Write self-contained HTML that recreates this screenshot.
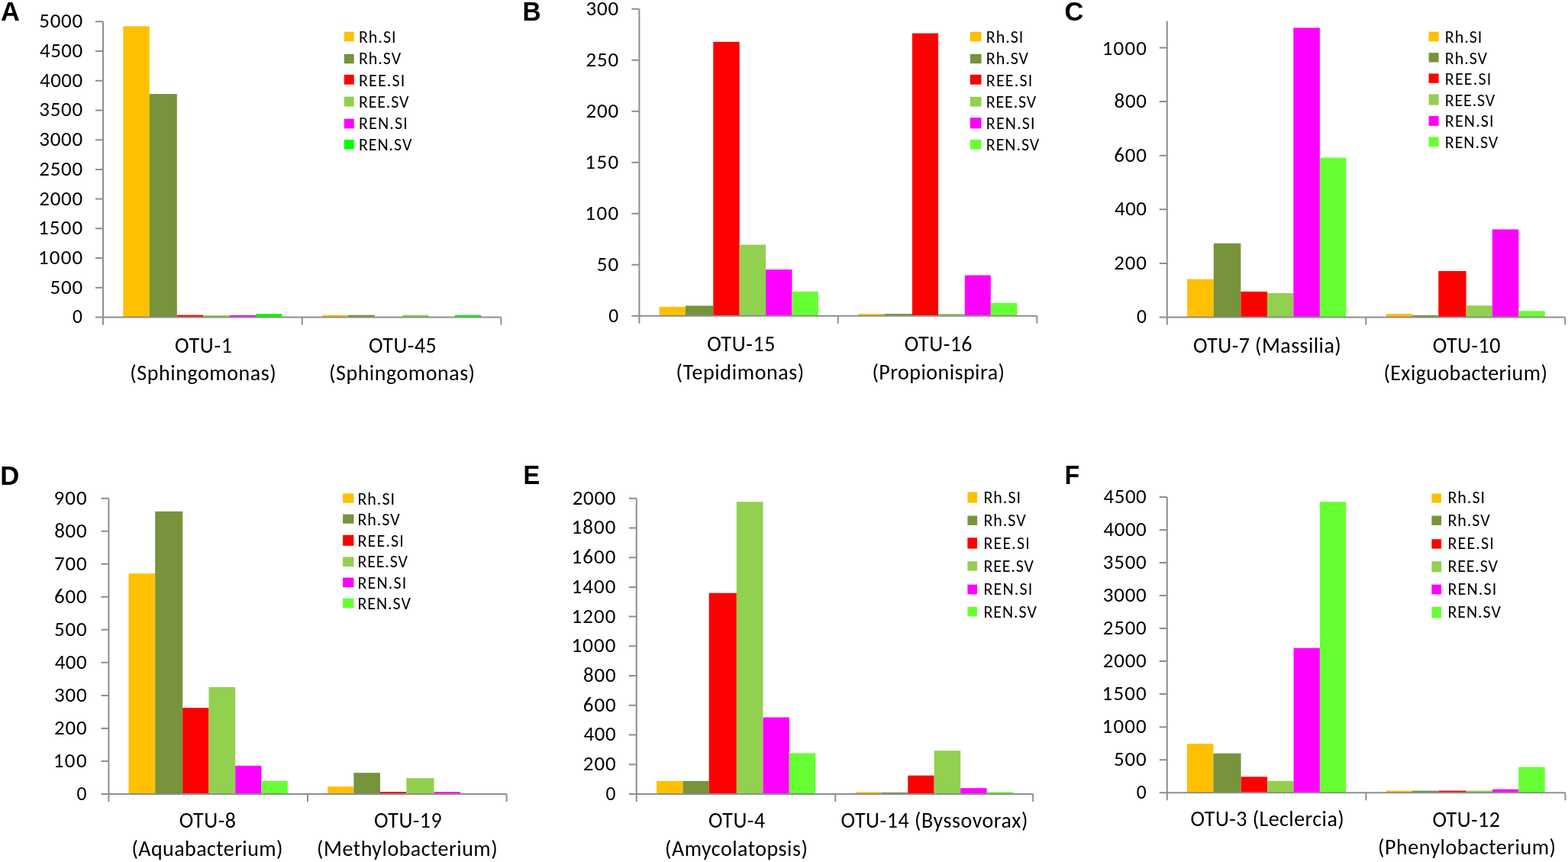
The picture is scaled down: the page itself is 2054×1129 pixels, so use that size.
<!DOCTYPE html>
<html><head><meta charset="utf-8"><title>OTU abundance bar charts</title>
<style>html,body{margin:0;padding:0;background:#fff;}svg{display:block;}text{fill:#000;}</style>
</head><body>
<svg width="2054" height="1129" viewBox="0 0 2054 1129">
<rect width="2054" height="1129" fill="#fff"/>
<rect x="161.4" y="34.35" width="34.4" height="381.15" fill="#FFC000"/>
<rect x="195.8" y="123.1" width="36.05" height="292.4" fill="#77933C"/>
<rect x="231.85" y="412.6" width="34.45" height="2.9" fill="#FF0000"/>
<rect x="266.3" y="413" width="34.7" height="2.5" fill="#92D050"/>
<rect x="301" y="412.8" width="34.2" height="2.7" fill="#FF00FF"/>
<rect x="335.2" y="411" width="34.3" height="4.5" fill="#00FF00"/>
<rect x="422.1" y="412.6" width="34.1" height="2.9" fill="#FFC000"/>
<rect x="456.2" y="412.6" width="34.6" height="2.9" fill="#77933C"/>
<rect x="527.1" y="412.6" width="34.3" height="2.9" fill="#92D050"/>
<rect x="595.7" y="412.6" width="34.5" height="2.9" fill="#00FF00"/>
<path d="M135 28.3V425.5M125 415.5H656.4M395.8 415.5V425.5M656.4 415.5V425.5M125 376.78H135M125 338.06H135M125 299.34H135M125 260.62H135M125 221.9H135M125 183.18H135M125 144.46H135M125 105.74H135M125 67.02H135M125 28.3H135" stroke="#8e8e8e" stroke-width="2" fill="none"/>
<text transform="translate(95.09 423.4) scale(0.9469 1)" font-family="Carlito, 'Liberation Sans', sans-serif" font-size="27">0</text>
<text x="65.45" y="384.68" font-family="Carlito, 'Liberation Sans', sans-serif" font-size="27" textLength="42.76" lengthAdjust="spacing">500</text>
<text x="50" y="345.96" font-family="Carlito, 'Liberation Sans', sans-serif" font-size="27" textLength="58.15" lengthAdjust="spacing">1000</text>
<text x="50" y="307.24" font-family="Carlito, 'Liberation Sans', sans-serif" font-size="27" textLength="58.15" lengthAdjust="spacing">1500</text>
<text x="51.25" y="268.52" font-family="Carlito, 'Liberation Sans', sans-serif" font-size="27" textLength="56.90" lengthAdjust="spacing">2000</text>
<text x="51.25" y="229.8" font-family="Carlito, 'Liberation Sans', sans-serif" font-size="27" textLength="56.90" lengthAdjust="spacing">2500</text>
<text x="51.25" y="191.08" font-family="Carlito, 'Liberation Sans', sans-serif" font-size="27" textLength="56.90" lengthAdjust="spacing">3000</text>
<text x="51.25" y="152.36" font-family="Carlito, 'Liberation Sans', sans-serif" font-size="27" textLength="56.90" lengthAdjust="spacing">3500</text>
<text x="52" y="113.64" font-family="Carlito, 'Liberation Sans', sans-serif" font-size="27" textLength="56.15" lengthAdjust="spacing">4000</text>
<text x="52" y="74.92" font-family="Carlito, 'Liberation Sans', sans-serif" font-size="27" textLength="56.15" lengthAdjust="spacing">4500</text>
<text x="51.25" y="36.2" font-family="Carlito, 'Liberation Sans', sans-serif" font-size="27" textLength="56.90" lengthAdjust="spacing">5000</text>
<text x="229.1" y="461.6" font-family="Carlito, 'Liberation Sans', sans-serif" font-size="28" textLength="74.77" lengthAdjust="spacing">OTU-1</text>
<text x="170.2" y="498.27" font-family="Carlito, 'Liberation Sans', sans-serif" font-size="28" textLength="191.43" lengthAdjust="spacing">(Sphingomonas)</text>
<text x="483" y="461.6" font-family="Carlito, 'Liberation Sans', sans-serif" font-size="28" textLength="88.81" lengthAdjust="spacing">OTU-45</text>
<text x="431" y="498.27" font-family="Carlito, 'Liberation Sans', sans-serif" font-size="28" textLength="191.12" lengthAdjust="spacing">(Sphingomonas)</text>
<rect x="450.8" y="41.6" width="12.9" height="12.7" fill="#FFC000"/>
<text x="469.9" y="56.2" font-family="Carlito, 'Liberation Sans', sans-serif" font-size="22" textLength="48.62" lengthAdjust="spacing">Rh.SI</text>
<rect x="450.8" y="70.8" width="12.9" height="12.4" fill="#77933C"/>
<text x="469.9" y="84.44" font-family="Carlito, 'Liberation Sans', sans-serif" font-size="22" textLength="55.25" lengthAdjust="spacing">Rh.SV</text>
<rect x="450.8" y="97.8" width="12.9" height="12.9" fill="#FF0000"/>
<text x="469.9" y="112.68" font-family="Carlito, 'Liberation Sans', sans-serif" font-size="22" textLength="60.39" lengthAdjust="spacing">REE.SI</text>
<rect x="450.8" y="126.6" width="12.9" height="12.9" fill="#92D050"/>
<text x="469.9" y="140.92" font-family="Carlito, 'Liberation Sans', sans-serif" font-size="22" textLength="65.49" lengthAdjust="spacing">REE.SV</text>
<rect x="450.8" y="155.6" width="12.9" height="12.7" fill="#FF00FF"/>
<text x="469.9" y="169.16" font-family="Carlito, 'Liberation Sans', sans-serif" font-size="22" textLength="63.84" lengthAdjust="spacing">REN.SI</text>
<rect x="450.8" y="182.9" width="12.9" height="12.6" fill="#00FF00"/>
<text x="469.9" y="197.4" font-family="Carlito, 'Liberation Sans', sans-serif" font-size="22" textLength="69.54" lengthAdjust="spacing">REN.SV</text>
<text transform="translate(0.98 26.9) scale(0.9705 1)" font-family="Liberation Sans, 'Liberation Sans', sans-serif" font-size="35.5" font-weight="700">A</text>
<rect x="863.6" y="401.9" width="34.4" height="11.86" fill="#FFC000"/>
<rect x="898" y="400.4" width="36.3" height="13.36" fill="#77933C"/>
<rect x="934.3" y="54.8" width="34.4" height="358.96" fill="#FF0000"/>
<rect x="968.7" y="320.5" width="34.4" height="93.26" fill="#92D050"/>
<rect x="1003.1" y="353" width="34.4" height="60.76" fill="#FF00FF"/>
<rect x="1037.5" y="381.8" width="34.3" height="31.96" fill="#66FF33"/>
<rect x="1124.4" y="411" width="34.4" height="2.76" fill="#FFC000"/>
<rect x="1158.8" y="411" width="36.2" height="2.76" fill="#77933C"/>
<rect x="1195" y="43.6" width="34.1" height="370.16" fill="#FF0000"/>
<rect x="1229.1" y="411" width="34.8" height="2.76" fill="#92D050"/>
<rect x="1263.9" y="360.5" width="33.9" height="53.26" fill="#FF00FF"/>
<rect x="1297.8" y="396.7" width="34.6" height="17.06" fill="#66FF33"/>
<path d="M837.4 11.83V423.76M827.4 413.76H1358.4M1097.8 413.76V423.76M1358.4 413.76V423.76M827.4 346.77H837.4M827.4 279.78H837.4M827.4 212.79H837.4M827.4 145.81H837.4M827.4 78.82H837.4M827.4 11.83H837.4" stroke="#8e8e8e" stroke-width="2" fill="none"/>
<text transform="translate(797.19 421.66) scale(0.9469 1)" font-family="Carlito, 'Liberation Sans', sans-serif" font-size="27">0</text>
<text x="781.75" y="354.67" font-family="Carlito, 'Liberation Sans', sans-serif" font-size="27" textLength="28.38" lengthAdjust="spacing">50</text>
<text x="766.3" y="287.68" font-family="Carlito, 'Liberation Sans', sans-serif" font-size="27" textLength="44.01" lengthAdjust="spacing">100</text>
<text x="766.3" y="220.69" font-family="Carlito, 'Liberation Sans', sans-serif" font-size="27" textLength="44.01" lengthAdjust="spacing">150</text>
<text x="767.55" y="153.71" font-family="Carlito, 'Liberation Sans', sans-serif" font-size="27" textLength="42.76" lengthAdjust="spacing">200</text>
<text x="767.55" y="86.72" font-family="Carlito, 'Liberation Sans', sans-serif" font-size="27" textLength="42.76" lengthAdjust="spacing">250</text>
<text x="767.55" y="19.73" font-family="Carlito, 'Liberation Sans', sans-serif" font-size="27" textLength="42.76" lengthAdjust="spacing">300</text>
<text x="926.2" y="459.9" font-family="Carlito, 'Liberation Sans', sans-serif" font-size="28" textLength="89.21" lengthAdjust="spacing">OTU-15</text>
<text x="885.6" y="496.8" font-family="Carlito, 'Liberation Sans', sans-serif" font-size="28" textLength="167.76" lengthAdjust="spacing">(Tepidimonas)</text>
<text x="1184.8" y="459.9" font-family="Carlito, 'Liberation Sans', sans-serif" font-size="28" textLength="88.76" lengthAdjust="spacing">OTU-16</text>
<text x="1142.4" y="496.8" font-family="Carlito, 'Liberation Sans', sans-serif" font-size="28" textLength="173.60" lengthAdjust="spacing">(Propionispira)</text>
<rect x="1270.8" y="41.6" width="14.7" height="12.7" fill="#FFC000"/>
<text x="1291.8" y="56.2" font-family="Carlito, 'Liberation Sans', sans-serif" font-size="22" textLength="48.62" lengthAdjust="spacing">Rh.SI</text>
<rect x="1270.8" y="70.8" width="14.7" height="12.4" fill="#77933C"/>
<text x="1291.8" y="84.44" font-family="Carlito, 'Liberation Sans', sans-serif" font-size="22" textLength="55.25" lengthAdjust="spacing">Rh.SV</text>
<rect x="1270.8" y="97.8" width="14.7" height="12.9" fill="#FF0000"/>
<text x="1291.8" y="112.68" font-family="Carlito, 'Liberation Sans', sans-serif" font-size="22" textLength="60.39" lengthAdjust="spacing">REE.SI</text>
<rect x="1270.8" y="126.8" width="14.7" height="12.7" fill="#92D050"/>
<text x="1291.8" y="140.92" font-family="Carlito, 'Liberation Sans', sans-serif" font-size="22" textLength="65.49" lengthAdjust="spacing">REE.SV</text>
<rect x="1270.8" y="154.1" width="14.7" height="14.2" fill="#FF00FF"/>
<text x="1291.8" y="169.16" font-family="Carlito, 'Liberation Sans', sans-serif" font-size="22" textLength="63.84" lengthAdjust="spacing">REN.SI</text>
<rect x="1270.8" y="182.9" width="14.7" height="12.6" fill="#66FF33"/>
<text x="1291.8" y="197.4" font-family="Carlito, 'Liberation Sans', sans-serif" font-size="22" textLength="69.54" lengthAdjust="spacing">REN.SV</text>
<text transform="translate(684.55 26.9) scale(0.9395 1)" font-family="Liberation Sans, 'Liberation Sans', sans-serif" font-size="35.5" font-weight="700">B</text>
<rect x="1555.1" y="365.6" width="34.7" height="49.9" fill="#FFC000"/>
<rect x="1589.8" y="318.7" width="35.6" height="96.8" fill="#77933C"/>
<rect x="1625.4" y="381.9" width="34.6" height="33.6" fill="#FF0000"/>
<rect x="1660" y="383.9" width="34.3" height="31.6" fill="#92D050"/>
<rect x="1694.3" y="36.4" width="34.6" height="379.1" fill="#FF00FF"/>
<rect x="1728.9" y="206.5" width="34.4" height="209" fill="#66FF33"/>
<rect x="1815.6" y="411" width="34.7" height="4.5" fill="#FFC000"/>
<rect x="1850.3" y="412.8" width="34" height="2.7" fill="#77933C"/>
<rect x="1884.3" y="355" width="36.3" height="60.5" fill="#FF0000"/>
<rect x="1920.6" y="400.2" width="34.2" height="15.3" fill="#92D050"/>
<rect x="1954.8" y="300.4" width="34.6" height="115.1" fill="#FF00FF"/>
<rect x="1989.4" y="407.3" width="34.4" height="8.2" fill="#66FF33"/>
<path d="M1528.8 27.5V425.5M1518.8 415.5H2050.3M1789.3 415.5V425.5M2050.3 415.5V425.5M1518.8 344.88H1528.8M1518.8 274.26H1528.8M1518.8 203.64H1528.8M1518.8 133.02H1528.8M1518.8 62.4H1528.8" stroke="#8e8e8e" stroke-width="2" fill="none"/>
<text transform="translate(1488.89 423.4) scale(0.9469 1)" font-family="Carlito, 'Liberation Sans', sans-serif" font-size="27">0</text>
<text x="1459.25" y="352.78" font-family="Carlito, 'Liberation Sans', sans-serif" font-size="27" textLength="42.76" lengthAdjust="spacing">200</text>
<text x="1460" y="282.16" font-family="Carlito, 'Liberation Sans', sans-serif" font-size="27" textLength="42.01" lengthAdjust="spacing">400</text>
<text x="1459.25" y="211.54" font-family="Carlito, 'Liberation Sans', sans-serif" font-size="27" textLength="42.76" lengthAdjust="spacing">600</text>
<text x="1459.5" y="140.92" font-family="Carlito, 'Liberation Sans', sans-serif" font-size="27" textLength="42.51" lengthAdjust="spacing">800</text>
<text x="1443.8" y="72.3" font-family="Carlito, 'Liberation Sans', sans-serif" font-size="27" textLength="58.15" lengthAdjust="spacing">1000</text>
<text x="1563.1" y="461.6" font-family="Carlito, 'Liberation Sans', sans-serif" font-size="28" textLength="193.67" lengthAdjust="spacing">OTU-7 (Massilia)</text>
<text x="1876.7" y="461.9" font-family="Carlito, 'Liberation Sans', sans-serif" font-size="28" textLength="88.81" lengthAdjust="spacing">OTU-10</text>
<text x="1812.4" y="498.02" font-family="Carlito, 'Liberation Sans', sans-serif" font-size="28" textLength="214.51" lengthAdjust="spacing">(Exiguobacterium)</text>
<rect x="1871.6" y="41.6" width="13" height="12.7" fill="#FFC000"/>
<text x="1892.8" y="56.2" font-family="Carlito, 'Liberation Sans', sans-serif" font-size="22" textLength="48.62" lengthAdjust="spacing">Rh.SI</text>
<rect x="1871.6" y="69.1" width="13" height="12.4" fill="#77933C"/>
<text x="1892.8" y="83.72" font-family="Carlito, 'Liberation Sans', sans-serif" font-size="22" textLength="55.25" lengthAdjust="spacing">Rh.SV</text>
<rect x="1871.6" y="96.4" width="13" height="12.4" fill="#FF0000"/>
<text x="1892.8" y="111.24" font-family="Carlito, 'Liberation Sans', sans-serif" font-size="22" textLength="60.39" lengthAdjust="spacing">REE.SI</text>
<rect x="1871.6" y="123.4" width="13" height="14.2" fill="#92D050"/>
<text x="1892.8" y="138.76" font-family="Carlito, 'Liberation Sans', sans-serif" font-size="22" textLength="65.49" lengthAdjust="spacing">REE.SV</text>
<rect x="1871.6" y="151.9" width="13" height="12.9" fill="#FF00FF"/>
<text x="1892.8" y="166.28" font-family="Carlito, 'Liberation Sans', sans-serif" font-size="22" textLength="63.84" lengthAdjust="spacing">REN.SI</text>
<rect x="1871.6" y="179.4" width="13" height="12.7" fill="#66FF33"/>
<text x="1892.8" y="193.8" font-family="Carlito, 'Liberation Sans', sans-serif" font-size="22" textLength="69.54" lengthAdjust="spacing">REN.SV</text>
<text transform="translate(1394.39 26.9) scale(0.9717 1)" font-family="Liberation Sans, 'Liberation Sans', sans-serif" font-size="35.5" font-weight="700">C</text>
<rect x="168.5" y="751.2" width="34.7" height="288.8" fill="#FFC000"/>
<rect x="203.2" y="669.8" width="36" height="370.2" fill="#77933C"/>
<rect x="239.2" y="927" width="34.3" height="113" fill="#FF0000"/>
<rect x="273.5" y="899.9" width="34.7" height="140.1" fill="#92D050"/>
<rect x="308.2" y="1002.9" width="34.2" height="37.1" fill="#FF00FF"/>
<rect x="342.4" y="1023" width="34.4" height="17" fill="#66FF33"/>
<rect x="429.2" y="1030.1" width="34.2" height="9.9" fill="#FFC000"/>
<rect x="463.4" y="1012.2" width="34.6" height="27.8" fill="#77933C"/>
<rect x="498" y="1037.2" width="34.3" height="2.8" fill="#FF0000"/>
<rect x="532.3" y="1019.2" width="36.3" height="20.8" fill="#92D050"/>
<rect x="568.6" y="1037.2" width="34.3" height="2.8" fill="#FF00FF"/>
<path d="M142.4 652.7V1050M132.4 1040H663.6M403 1040V1050M663.6 1040V1050M132.4 996.97H142.4M132.4 953.93H142.4M132.4 910.9H142.4M132.4 867.87H142.4M132.4 824.83H142.4M132.4 781.8H142.4M132.4 738.77H142.4M132.4 695.73H142.4M132.4 652.7H142.4" stroke="#8e8e8e" stroke-width="2" fill="none"/>
<text transform="translate(100.59 1047.9) scale(0.9469 1)" font-family="Carlito, 'Liberation Sans', sans-serif" font-size="27">0</text>
<text x="69.7" y="1004.87" font-family="Carlito, 'Liberation Sans', sans-serif" font-size="27" textLength="44.01" lengthAdjust="spacing">100</text>
<text x="70.95" y="961.83" font-family="Carlito, 'Liberation Sans', sans-serif" font-size="27" textLength="42.76" lengthAdjust="spacing">200</text>
<text x="70.95" y="918.8" font-family="Carlito, 'Liberation Sans', sans-serif" font-size="27" textLength="42.76" lengthAdjust="spacing">300</text>
<text x="71.7" y="875.77" font-family="Carlito, 'Liberation Sans', sans-serif" font-size="27" textLength="42.01" lengthAdjust="spacing">400</text>
<text x="70.95" y="832.73" font-family="Carlito, 'Liberation Sans', sans-serif" font-size="27" textLength="42.76" lengthAdjust="spacing">500</text>
<text x="70.95" y="789.7" font-family="Carlito, 'Liberation Sans', sans-serif" font-size="27" textLength="42.76" lengthAdjust="spacing">600</text>
<text x="70.95" y="746.67" font-family="Carlito, 'Liberation Sans', sans-serif" font-size="27" textLength="42.76" lengthAdjust="spacing">700</text>
<text x="71.2" y="703.63" font-family="Carlito, 'Liberation Sans', sans-serif" font-size="27" textLength="42.51" lengthAdjust="spacing">800</text>
<text x="70.45" y="660.6" font-family="Carlito, 'Liberation Sans', sans-serif" font-size="27" textLength="43.26" lengthAdjust="spacing">900</text>
<text x="234.8" y="1084.3" font-family="Carlito, 'Liberation Sans', sans-serif" font-size="28" textLength="74.27" lengthAdjust="spacing">OTU-8</text>
<text x="172.4" y="1121.1" font-family="Carlito, 'Liberation Sans', sans-serif" font-size="28" textLength="198.22" lengthAdjust="spacing">(Aquabacterium)</text>
<text x="490.1" y="1084.2" font-family="Carlito, 'Liberation Sans', sans-serif" font-size="28" textLength="88.56" lengthAdjust="spacing">OTU-19</text>
<text x="415.1" y="1121.1" font-family="Carlito, 'Liberation Sans', sans-serif" font-size="28" textLength="236.62" lengthAdjust="spacing">(Methylobacterium)</text>
<rect x="449.1" y="646.3" width="14.3" height="12.4" fill="#FFC000"/>
<text x="468.4" y="660.6" font-family="Carlito, 'Liberation Sans', sans-serif" font-size="22" textLength="48.62" lengthAdjust="spacing">Rh.SI</text>
<rect x="449.1" y="673.6" width="14.3" height="12.1" fill="#77933C"/>
<text x="468.4" y="688.16" font-family="Carlito, 'Liberation Sans', sans-serif" font-size="22" textLength="55.25" lengthAdjust="spacing">Rh.SV</text>
<rect x="449.1" y="700.7" width="14.3" height="14.1" fill="#FF0000"/>
<text x="468.4" y="715.72" font-family="Carlito, 'Liberation Sans', sans-serif" font-size="22" textLength="60.39" lengthAdjust="spacing">REE.SI</text>
<rect x="449.1" y="729.4" width="14.3" height="12.6" fill="#92D050"/>
<text x="468.4" y="743.28" font-family="Carlito, 'Liberation Sans', sans-serif" font-size="22" textLength="65.49" lengthAdjust="spacing">REE.SV</text>
<rect x="449.1" y="756.6" width="14.3" height="12.6" fill="#FF00FF"/>
<text x="468.4" y="770.84" font-family="Carlito, 'Liberation Sans', sans-serif" font-size="22" textLength="63.84" lengthAdjust="spacing">REN.SI</text>
<rect x="449.1" y="783.7" width="14.3" height="12.7" fill="#66FF33"/>
<text x="468.4" y="798.4" font-family="Carlito, 'Liberation Sans', sans-serif" font-size="22" textLength="69.54" lengthAdjust="spacing">REN.SV</text>
<text transform="translate(0.35 634.9) scale(0.9793 1)" font-family="Liberation Sans, 'Liberation Sans', sans-serif" font-size="35.5" font-weight="700">D</text>
<rect x="860.1" y="1022.9" width="34.4" height="17.1" fill="#FFC000"/>
<rect x="894.5" y="1022.9" width="34.2" height="17.1" fill="#77933C"/>
<rect x="928.7" y="776.7" width="36.15" height="263.3" fill="#FF0000"/>
<rect x="964.85" y="657.3" width="34.65" height="382.7" fill="#92D050"/>
<rect x="999.5" y="939.5" width="34.3" height="100.5" fill="#FF00FF"/>
<rect x="1033.8" y="986.5" width="34.4" height="53.5" fill="#66FF33"/>
<rect x="1120.7" y="1037.4" width="34.2" height="2.6" fill="#FFC000"/>
<rect x="1154.9" y="1037.9" width="34.4" height="2.1" fill="#77933C"/>
<rect x="1189.3" y="1015.7" width="34.4" height="24.3" fill="#FF0000"/>
<rect x="1223.7" y="983.2" width="34.5" height="56.8" fill="#92D050"/>
<rect x="1258.2" y="1032.2" width="34.4" height="7.8" fill="#FF00FF"/>
<rect x="1292.6" y="1037.4" width="34.4" height="2.6" fill="#66FF33"/>
<path d="M833.8 652.7V1050M823.8 1040H1353.2M1094.3 1040V1050M1353.2 1040V1050M823.8 1001.27H833.8M823.8 962.54H833.8M823.8 923.81H833.8M823.8 885.08H833.8M823.8 846.35H833.8M823.8 807.62H833.8M823.8 768.89H833.8M823.8 730.16H833.8M823.8 691.43H833.8M823.8 652.7H833.8" stroke="#8e8e8e" stroke-width="2" fill="none"/>
<text transform="translate(793.49 1047.9) scale(0.9469 1)" font-family="Carlito, 'Liberation Sans', sans-serif" font-size="27">0</text>
<text x="763.85" y="1009.17" font-family="Carlito, 'Liberation Sans', sans-serif" font-size="27" textLength="42.76" lengthAdjust="spacing">200</text>
<text x="764.6" y="970.44" font-family="Carlito, 'Liberation Sans', sans-serif" font-size="27" textLength="42.01" lengthAdjust="spacing">400</text>
<text x="763.85" y="931.71" font-family="Carlito, 'Liberation Sans', sans-serif" font-size="27" textLength="42.76" lengthAdjust="spacing">600</text>
<text x="764.1" y="892.98" font-family="Carlito, 'Liberation Sans', sans-serif" font-size="27" textLength="42.51" lengthAdjust="spacing">800</text>
<text x="748.4" y="854.25" font-family="Carlito, 'Liberation Sans', sans-serif" font-size="27" textLength="58.15" lengthAdjust="spacing">1000</text>
<text x="748.4" y="815.52" font-family="Carlito, 'Liberation Sans', sans-serif" font-size="27" textLength="58.15" lengthAdjust="spacing">1200</text>
<text x="748.4" y="776.79" font-family="Carlito, 'Liberation Sans', sans-serif" font-size="27" textLength="58.15" lengthAdjust="spacing">1400</text>
<text x="748.4" y="738.06" font-family="Carlito, 'Liberation Sans', sans-serif" font-size="27" textLength="58.15" lengthAdjust="spacing">1600</text>
<text x="748.4" y="699.33" font-family="Carlito, 'Liberation Sans', sans-serif" font-size="27" textLength="58.15" lengthAdjust="spacing">1800</text>
<text x="749.65" y="660.6" font-family="Carlito, 'Liberation Sans', sans-serif" font-size="27" textLength="56.90" lengthAdjust="spacing">2000</text>
<text x="928" y="1084.1" font-family="Carlito, 'Liberation Sans', sans-serif" font-size="28" textLength="74.12" lengthAdjust="spacing">OTU-4</text>
<text x="871" y="1121.25" font-family="Carlito, 'Liberation Sans', sans-serif" font-size="28" textLength="186.88" lengthAdjust="spacing">(Amycolatopsis)</text>
<text x="1101.6" y="1084.4" font-family="Carlito, 'Liberation Sans', sans-serif" font-size="28" textLength="244.80" lengthAdjust="spacing">OTU-14 (Byssovorax)</text>
<rect x="1267.4" y="644.5" width="12.7" height="14.1" fill="#FFC000"/>
<text x="1288.4" y="658.8" font-family="Carlito, 'Liberation Sans', sans-serif" font-size="22" textLength="48.62" lengthAdjust="spacing">Rh.SI</text>
<rect x="1267.4" y="675.5" width="12.7" height="12.4" fill="#77933C"/>
<text x="1288.4" y="688.88" font-family="Carlito, 'Liberation Sans', sans-serif" font-size="22" textLength="55.25" lengthAdjust="spacing">Rh.SV</text>
<rect x="1267.4" y="704.3" width="12.7" height="14.3" fill="#FF0000"/>
<text x="1288.4" y="718.96" font-family="Carlito, 'Liberation Sans', sans-serif" font-size="22" textLength="60.39" lengthAdjust="spacing">REE.SI</text>
<rect x="1267.4" y="735.2" width="12.7" height="12.4" fill="#92D050"/>
<text x="1288.4" y="749.04" font-family="Carlito, 'Liberation Sans', sans-serif" font-size="22" textLength="65.49" lengthAdjust="spacing">REE.SV</text>
<rect x="1267.4" y="765.6" width="12.7" height="12.8" fill="#FF00FF"/>
<text x="1288.4" y="779.12" font-family="Carlito, 'Liberation Sans', sans-serif" font-size="22" textLength="63.84" lengthAdjust="spacing">REN.SI</text>
<rect x="1267.4" y="794.9" width="12.7" height="12.4" fill="#66FF33"/>
<text x="1288.4" y="809.2" font-family="Carlito, 'Liberation Sans', sans-serif" font-size="22" textLength="69.54" lengthAdjust="spacing">REN.SV</text>
<text transform="translate(685.61 634) scale(0.9165 1)" font-family="Liberation Sans, 'Liberation Sans', sans-serif" font-size="35.5" font-weight="700">E</text>
<rect x="1555" y="974.1" width="34.5" height="64.1" fill="#FFC000"/>
<rect x="1589.5" y="986.7" width="36.1" height="51.5" fill="#77933C"/>
<rect x="1625.6" y="1017.4" width="34.5" height="20.8" fill="#FF0000"/>
<rect x="1660.1" y="1022.8" width="34.5" height="15.4" fill="#92D050"/>
<rect x="1694.6" y="848.7" width="34.3" height="189.5" fill="#FF00FF"/>
<rect x="1728.9" y="657.3" width="34.15" height="380.9" fill="#66FF33"/>
<rect x="1815.6" y="1035.6" width="34.5" height="2.6" fill="#FFC000"/>
<rect x="1850.1" y="1035.6" width="34.4" height="2.6" fill="#77933C"/>
<rect x="1884.5" y="1035.6" width="36.2" height="2.6" fill="#FF0000"/>
<rect x="1920.7" y="1035.6" width="34.2" height="2.6" fill="#92D050"/>
<rect x="1954.9" y="1033.7" width="34.4" height="4.5" fill="#FF00FF"/>
<rect x="1989.3" y="1004.6" width="34.4" height="33.6" fill="#66FF33"/>
<path d="M1528.8 650.9V1048.2M1518.8 1038.2H2050.4M1789.4 1038.2V1048.2M2050.4 1038.2V1048.2M1518.8 995.17H1528.8M1518.8 952.13H1528.8M1518.8 909.1H1528.8M1518.8 866.07H1528.8M1518.8 823.03H1528.8M1518.8 780H1528.8M1518.8 736.97H1528.8M1518.8 693.93H1528.8M1518.8 650.9H1528.8" stroke="#8e8e8e" stroke-width="2" fill="none"/>
<text transform="translate(1488.69 1046.1) scale(0.9469 1)" font-family="Carlito, 'Liberation Sans', sans-serif" font-size="27">0</text>
<text x="1459.05" y="1003.07" font-family="Carlito, 'Liberation Sans', sans-serif" font-size="27" textLength="42.76" lengthAdjust="spacing">500</text>
<text x="1443.6" y="960.03" font-family="Carlito, 'Liberation Sans', sans-serif" font-size="27" textLength="58.15" lengthAdjust="spacing">1000</text>
<text x="1443.6" y="917" font-family="Carlito, 'Liberation Sans', sans-serif" font-size="27" textLength="58.15" lengthAdjust="spacing">1500</text>
<text x="1444.85" y="873.97" font-family="Carlito, 'Liberation Sans', sans-serif" font-size="27" textLength="56.90" lengthAdjust="spacing">2000</text>
<text x="1444.85" y="830.93" font-family="Carlito, 'Liberation Sans', sans-serif" font-size="27" textLength="56.90" lengthAdjust="spacing">2500</text>
<text x="1444.85" y="787.9" font-family="Carlito, 'Liberation Sans', sans-serif" font-size="27" textLength="56.90" lengthAdjust="spacing">3000</text>
<text x="1444.85" y="744.87" font-family="Carlito, 'Liberation Sans', sans-serif" font-size="27" textLength="56.90" lengthAdjust="spacing">3500</text>
<text x="1445.6" y="701.83" font-family="Carlito, 'Liberation Sans', sans-serif" font-size="27" textLength="56.15" lengthAdjust="spacing">4000</text>
<text x="1445.6" y="658.8" font-family="Carlito, 'Liberation Sans', sans-serif" font-size="27" textLength="56.15" lengthAdjust="spacing">4500</text>
<text x="1559.6" y="1082.1" font-family="Carlito, 'Liberation Sans', sans-serif" font-size="28" textLength="201.16" lengthAdjust="spacing">OTU-3 (Leclercia)</text>
<text x="1876.4" y="1082.6" font-family="Carlito, 'Liberation Sans', sans-serif" font-size="28" textLength="88.51" lengthAdjust="spacing">OTU-12</text>
<text x="1805.1" y="1119.15" font-family="Carlito, 'Liberation Sans', sans-serif" font-size="28" textLength="232.94" lengthAdjust="spacing">(Phenylobacterium)</text>
<rect x="1875.4" y="646.5" width="12.7" height="12.1" fill="#FFC000"/>
<text x="1896.4" y="658.9" font-family="Carlito, 'Liberation Sans', sans-serif" font-size="22" textLength="48.62" lengthAdjust="spacing">Rh.SI</text>
<rect x="1875.4" y="675.5" width="12.7" height="12.4" fill="#77933C"/>
<text x="1896.4" y="688.96" font-family="Carlito, 'Liberation Sans', sans-serif" font-size="22" textLength="55.25" lengthAdjust="spacing">Rh.SV</text>
<rect x="1875.4" y="706.2" width="12.7" height="12.4" fill="#FF0000"/>
<text x="1896.4" y="719.02" font-family="Carlito, 'Liberation Sans', sans-serif" font-size="22" textLength="60.39" lengthAdjust="spacing">REE.SI</text>
<rect x="1875.4" y="735.2" width="12.7" height="14.1" fill="#92D050"/>
<text x="1896.4" y="749.08" font-family="Carlito, 'Liberation Sans', sans-serif" font-size="22" textLength="65.49" lengthAdjust="spacing">REE.SV</text>
<rect x="1875.4" y="765.6" width="12.7" height="12.8" fill="#FF00FF"/>
<text x="1896.4" y="779.14" font-family="Carlito, 'Liberation Sans', sans-serif" font-size="22" textLength="63.84" lengthAdjust="spacing">REN.SI</text>
<rect x="1875.4" y="794.9" width="12.7" height="14.4" fill="#66FF33"/>
<text x="1896.4" y="809.2" font-family="Carlito, 'Liberation Sans', sans-serif" font-size="22" textLength="69.54" lengthAdjust="spacing">REN.SV</text>
<text transform="translate(1394.66 633.8) scale(0.8944 1)" font-family="Liberation Sans, 'Liberation Sans', sans-serif" font-size="35.5" font-weight="700">F</text>
</svg>
</body></html>
